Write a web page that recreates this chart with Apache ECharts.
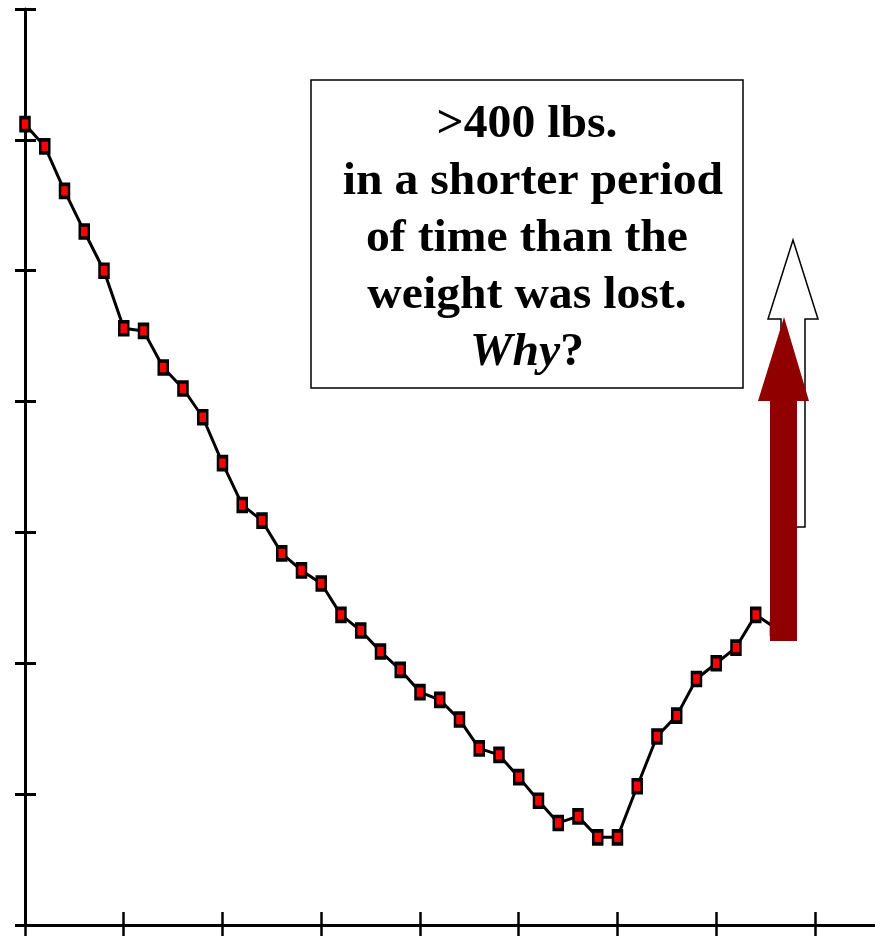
<!DOCTYPE html>
<html>
<head>
<meta charset="utf-8">
<script src="https://cdn.jsdelivr.net/npm/echarts@6/dist/echarts.min.js"></script>
<style>html,body{margin:0;padding:0;background:#fff;}#c{width:875px;height:937px;}</style>
</head>
<body>
<div id="c"></div>
<script>
const periods = [0,1,2,3,4,5,6,7,8,9,10,11,12,13,14,15,16,17,18,19,20,21,22,23,24,25,26,27,28,29,30,31,32,33,34,35,36,37,38];
const weights = [612,595,561,530,500,456,454,426,410,388,353,321,309,284,271,261,237,225,209,195,178,172,157,135,130,113,95,78,83,67,67,106,144,160,188,200,212,237,227];
const xTicks = [0,5,10,15,20,25,30,35,40];
const noteLines = ['>400 lbs.', ' in a shorter period', 'of time than the', 'weight was lost.'];
const noteItalic = 'Why';

const chart = echarts.init(document.getElementById('c'), null, {renderer: 'canvas'});
const pts = periods.map((p, i) => [p, weights[i]]);

const axisBase = {
  type: 'value', min: 0, splitLine: {show: false}, axisLabel: {show: false}
};
const xMax = 43.04;
const serif = '"Liberation Serif", "Times New Roman", serif';
chart.setOption({
  animation: false,
  backgroundColor: '#fff',
  grid: {left: 25, right: 0, top: 9, bottom: 12, containLabel: false},
  xAxis: [
    Object.assign({}, axisBase, {max: xMax, interval: 5, position: 'bottom',
      axisLine: {show: true, onZero: false, lineStyle: {color: '#000', width: 3}},
      axisTick: {show: true, inside: false, length: 11, customValues: xTicks, lineStyle: {color: '#000', width: 2.5}}}),
    Object.assign({}, axisBase, {max: xMax, interval: 5, position: 'bottom',
      axisLine: {show: false, onZero: false},
      axisTick: {show: true, inside: true, length: 13, customValues: xTicks, lineStyle: {color: '#000', width: 2.5}}})
  ],
  yAxis: [
    Object.assign({}, axisBase, {max: 700, interval: 100, position: 'left',
      axisLine: {show: true, onZero: false, lineStyle: {color: '#000', width: 3}},
      axisTick: {show: true, inside: false, length: 10, lineStyle: {color: '#000', width: 3}}}),
    Object.assign({}, axisBase, {max: 700, interval: 100, position: 'left',
      axisLine: {show: false, onZero: false},
      axisTick: {show: true, inside: true, length: 11, lineStyle: {color: '#000', width: 3}}})
  ],
  series: [{
    type: 'line',
    xAxisIndex: 0, yAxisIndex: 0,
    data: pts,
    symbol: 'rect',
    symbolSize: [9, 13],
    lineStyle: {color: '#000', width: 3},
    itemStyle: {color: '#ff0000', borderColor: '#000', borderWidth: 3},
    z: 3
  }],
  graphic: [
    {type: 'rect', z: 10, shape: {x: 311, y: 80, width: 432, height: 308},
      style: {fill: '#fff', stroke: '#000', lineWidth: 1.5}},
    {type: 'text', z: 11, x: 527, y: 239, scaleX: 1.015,
      style: {
        text: noteLines.map(l => '{b|' + l + '}').join('\n') + '\n{i|' + noteItalic + '}{b|?}',
        align: 'center', verticalAlign: 'middle',
        rich: {
          b: {fontFamily: serif, fontWeight: 'bold', fontSize: 47, lineHeight: 57, fill: '#000'},
          i: {fontFamily: serif, fontWeight: 'bold', fontStyle: 'italic', fontSize: 47, lineHeight: 57, fill: '#000'}
        }
      }},
    {type: 'polygon', z: 10,
      shape: {points: [[793,240],[818,319],[805,319],[805,527],[781,527],[781,319],[768,319]]},
      style: {fill: '#fff', stroke: '#000', lineWidth: 1.5}},
    {type: 'polygon', z: 12,
      shape: {points: [[784,317],[809,401],[797,401],[797,641],[770,641],[770,401],[758,401]]},
      style: {fill: '#900000', stroke: null}}
  ]
});
</script>
</body>
</html>
